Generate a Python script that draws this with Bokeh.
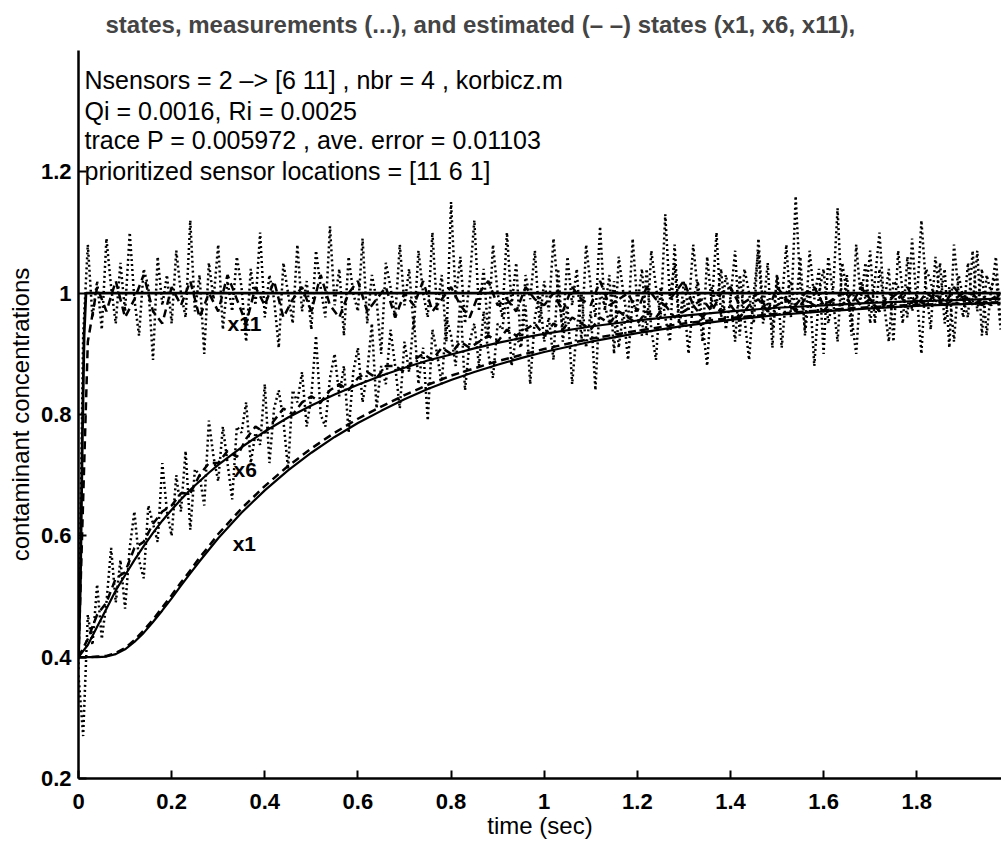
from bokeh.plotting import figure
from bokeh.models import Range1d, FixedTicker, ColumnDataSource
from bokeh.core.properties import value
from bokeh.embed import file_html
from bokeh.resources import INLINE

FONT = "Liberation Sans"

TITLE = "states, measurements (...), and estimated (\u2013 \u2013) states (x1, x6, x11),"
XLABEL = "time (sec)"
YLABEL = "contaminant concentrations"
INFO_LINES = [
    "Nsensors = 2 \u2013> [6 11] , nbr = 4 , korbicz.m",
    "Qi = 0.0016, Ri = 0.0025",
    "trace P = 0.005972 , ave. error = 0.01103",
    "prioritized sensor locations = [11 6 1]",
]
INFO_X = [0.013, 0.013, 0.013, 0.013]
INFO_Y = [1.351, 1.301, 1.252, 1.201]

CURVE_LABELS = ["x11", "x6", "x1"]
CURVE_LABEL_X = [0.32, 0.333, 0.331]
CURVE_LABEL_Y = [0.95, 0.71, 0.587]

X_TICKS = [0, 0.2, 0.4, 0.6, 0.8, 1, 1.2, 1.4, 1.6, 1.8]
X_TICK_LABELS = ["0", "0.2", "0.4", "0.6", "0.8", "1", "1.2", "1.4", "1.6", "1.8"]
Y_TICKS = [0.2, 0.4, 0.6, 0.8, 1, 1.2]
Y_TICK_LABELS = ["0.2", "0.4", "0.6", "0.8", "1", "1.2"]

# true states
t_state = [0, 0.02, 0.04, 0.06, 0.08, 0.10, 0.12, 0.14, 0.16, 0.18, 0.20, 0.22, 0.24, 0.26, 0.28,
           0.30, 0.35, 0.40, 0.45, 0.50, 0.55, 0.60, 0.65, 0.70, 0.75, 0.80, 0.85, 0.90, 0.95,
           1.00, 1.10, 1.20, 1.30, 1.40, 1.50, 1.60, 1.70, 1.80, 1.90, 1.98]
x1_state = [0.400, 0.400, 0.400, 0.401, 0.405, 0.413, 0.425, 0.440, 0.458, 0.477, 0.497, 0.518,
            0.538, 0.558, 0.577, 0.596, 0.638, 0.675, 0.708, 0.737, 0.763, 0.786, 0.806, 0.825,
            0.842, 0.857, 0.870, 0.882, 0.893, 0.903, 0.920, 0.934, 0.946, 0.956, 0.964, 0.970,
            0.975, 0.979, 0.982, 0.984]
x1_est = [0.400, 0.400, 0.401, 0.402, 0.407, 0.415, 0.428, 0.444, 0.462, 0.482, 0.502, 0.523,
          0.543, 0.564, 0.583, 0.603, 0.645, 0.682, 0.715, 0.744, 0.770, 0.793, 0.813, 0.832,
          0.849, 0.864, 0.876, 0.888, 0.898, 0.908, 0.925, 0.938, 0.950, 0.959, 0.966, 0.972,
          0.977, 0.981, 0.983, 0.985]
x6_state = [0.400, 0.420, 0.450, 0.480, 0.510, 0.535, 0.560, 0.583, 0.605, 0.625, 0.643, 0.660,
            0.676, 0.690, 0.704, 0.717, 0.746, 0.772, 0.795, 0.815, 0.833, 0.849, 0.864, 0.877,
            0.889, 0.899, 0.909, 0.918, 0.926, 0.933, 0.945, 0.955, 0.963, 0.970, 0.976, 0.980,
            0.984, 0.987, 0.989, 0.991]
t_x11 = [0, 0.004, 0.008, 0.012, 0.016, 1.98]
x11_state = [0.40, 0.52, 0.75, 0.93, 1.00, 1.00]

# measurements, every 0.01 s
y11_meas = [0.38, 0.93, 1.08, 0.96, 1.02, 0.94, 1.09, 1.01, 0.95, 1.05, 0.97, 1.10, 0.99, 0.93, 1.04,
            1.01, 0.89, 1.06, 0.98, 1.03, 0.95, 1.07, 1.00, 0.96, 1.12, 0.97, 1.03, 0.90, 1.05, 0.99,
            1.08, 0.94, 1.02, 0.97, 1.06, 1.01, 0.92, 1.04, 0.98, 1.10, 0.96, 1.03, 0.99, 0.91, 1.05,
            1.00, 0.95, 1.08, 0.97, 1.02, 0.94, 1.07, 1.01, 0.96, 1.11, 0.98, 1.04, 0.93, 1.06, 1.00,
            0.97, 1.09, 0.95, 1.03, 0.99, 0.90, 1.05, 1.01, 0.96, 1.08, 0.98, 1.04, 0.94, 1.07, 1.00,
            0.96, 1.10, 0.97, 1.03, 0.92, 1.15, 0.99, 1.06, 0.95, 1.02, 1.12, 0.97, 1.04, 0.93, 1.08,
            1.00, 0.96, 1.10, 0.98, 1.05, 0.91, 1.03, 0.99, 1.07, 0.95, 1.02, 0.97, 1.09, 1.00, 0.94,
            1.06, 0.98, 1.04, 0.92, 1.08, 1.01, 0.96, 1.11, 0.97, 1.03, 0.90, 1.06, 1.00, 0.95, 1.09,
            0.98, 1.04, 0.93, 1.07, 1.01, 0.96, 1.13, 0.99, 1.05, 0.94, 1.02, 0.97, 1.08, 1.00, 0.92,
            1.06, 0.98, 1.10, 0.96, 1.03, 0.99, 1.07, 0.93, 1.04, 1.00, 0.95, 1.09, 0.97, 1.05, 0.91,
            1.03, 0.98, 1.08, 0.96, 1.16, 1.01, 0.94, 1.07, 0.99, 1.04, 0.90, 1.06, 1.00, 1.14, 0.97,
            1.03, 0.93, 1.08, 0.99, 1.05, 0.95, 1.02, 1.10, 0.98, 1.04, 0.92, 1.07, 1.00, 0.96, 1.09,
            0.98, 1.12, 1.01, 0.94, 1.06, 0.99, 1.04, 0.91, 1.08, 1.00, 0.96, 1.05, 0.98, 1.07, 0.93,
            1.03, 1.00, 1.06, 0.95]
y6_meas = [0.37, 0.27, 0.47, 0.42, 0.52, 0.43, 0.49, 0.58, 0.49, 0.56, 0.48, 0.58, 0.64, 0.56, 0.53,
           0.65, 0.62, 0.59, 0.72, 0.64, 0.60, 0.70, 0.64, 0.74, 0.61, 0.71, 0.70, 0.65, 0.79, 0.73,
           0.69, 0.78, 0.72, 0.66, 0.78, 0.77, 0.82, 0.72, 0.77, 0.75, 0.85, 0.72, 0.81, 0.84, 0.79,
           0.71, 0.84, 0.82, 0.87, 0.78, 0.83, 0.93, 0.80, 0.78, 0.86, 0.90, 0.83, 0.88, 0.77, 0.87,
           0.91, 0.82, 0.87, 0.95, 0.81, 0.88, 0.85, 0.94, 0.88, 0.81, 0.92, 0.87, 0.96, 0.85, 0.91,
           0.79, 0.94, 0.90, 0.85, 0.96, 0.93, 0.88, 0.99, 0.84, 0.92, 0.95, 0.88, 0.97, 0.90, 0.86,
           0.95, 0.94, 1.00, 0.88, 0.93, 0.91, 0.98, 0.85, 0.96, 1.00, 0.92, 0.96, 0.89, 1.04, 0.92,
           0.98, 0.85, 0.94, 1.00, 0.91, 0.97, 0.84, 1.00, 0.98, 0.95, 1.02, 0.91, 0.97, 0.89, 0.99,
           0.96, 0.93, 1.04, 0.94, 0.89, 1.01, 0.96, 0.92, 1.08, 0.95, 0.99, 0.90, 0.99, 1.02, 0.95,
           0.88, 1.01, 0.98, 1.04, 0.94, 0.99, 0.92, 1.03, 0.96, 0.89, 1.00, 1.07, 0.95, 0.99, 0.94,
           1.03, 0.91, 1.00, 1.02, 0.97, 1.06, 0.93, 1.01, 0.88, 1.00, 1.04, 0.95, 0.99, 0.92, 1.05,
           1.00, 0.96, 0.90, 1.02, 0.99, 1.07, 0.95, 1.04, 0.98, 0.92, 1.02, 1.01, 0.95, 1.06, 0.97,
           1.00, 0.90, 1.04, 1.02, 0.98, 1.05, 0.95, 1.01, 0.92, 1.03, 0.99, 0.96, 1.07, 0.97, 1.04,
           0.93, 1.01, 1.03, 0.94]

# estimates of sensed states, every 0.02 s
x6_est = [0.40, 0.43, 0.47, 0.49, 0.53, 0.54, 0.58, 0.59, 0.62, 0.64, 0.65, 0.67, 0.67, 0.70, 0.72,
          0.72, 0.74, 0.73, 0.76, 0.78, 0.77, 0.79, 0.81, 0.80, 0.82, 0.83, 0.82, 0.84, 0.85, 0.84,
          0.86, 0.87, 0.86, 0.88, 0.88, 0.87, 0.89, 0.90, 0.89, 0.91, 0.90, 0.92, 0.91, 0.92, 0.93,
          0.92, 0.94, 0.93, 0.94, 0.95, 0.93, 0.95, 0.94, 0.96, 0.95, 0.94, 0.96, 0.95, 0.97, 0.96,
          0.95, 0.97, 0.96, 0.98, 0.96, 0.97, 0.98, 0.96, 0.98, 0.97, 0.98, 0.96, 0.98, 0.99, 0.97,
          0.98, 0.99, 0.97, 0.99, 0.98, 0.97, 0.99, 0.98, 1.00, 0.98, 0.99, 0.97, 0.99, 1.00, 0.98,
          0.99, 0.98, 1.00, 0.98, 0.99, 1.00, 0.98, 0.99, 0.98, 1.00]
x11_est = [0.40, 0.92, 1.01, 0.97, 1.02, 0.96, 0.99, 1.03, 0.97, 0.95, 1.01, 0.98, 1.02, 0.96, 1.00,
           0.97, 1.03, 0.99, 0.95, 1.01, 0.98, 1.02, 0.96, 0.99, 1.01, 0.97, 1.03, 0.98, 0.96, 1.00,
           1.02, 0.97, 0.99, 1.01, 0.96, 1.00, 0.98, 1.02, 0.97, 0.99, 1.01, 0.98, 0.96, 1.00, 1.02,
           0.98, 0.99, 0.97, 1.01, 0.99, 0.98, 1.00, 0.97, 1.01, 0.99, 0.98, 1.02, 0.98, 0.99, 1.00,
           0.97, 1.01, 0.99, 0.98, 1.00, 1.02, 0.98, 0.99, 0.97, 1.00, 1.01, 0.98, 0.99, 1.00, 0.97,
           1.01, 0.99, 0.98, 1.00, 1.01, 0.98, 0.99, 1.00, 0.98, 1.01, 0.99, 0.97, 1.00, 0.99, 1.01,
           0.98, 1.00, 0.99, 0.98, 1.01, 0.99, 1.00, 0.98, 0.99, 1.00]

t_meas11 = [round(i * 0.01, 3) for i in range(len(y11_meas))]
t_meas6 = [round(i * 0.01, 3) for i in range(len(y6_meas))]
t_est6 = [round(i * 0.02, 3) for i in range(len(x6_est))]
t_est11 = [round(i * 0.02, 3) for i in range(len(x11_est))]

p = figure(width=1001, height=842, output_backend="svg", toolbar_location=None,
           x_range=Range1d(0, 1.982), y_range=Range1d(0.2, 1.4),
           min_border_left=78, min_border_right=0, min_border_top=48, min_border_bottom=64)
p.outline_line_color = None
p.grid.visible = False
p.background_fill_color = "white"
p.border_fill_color = "white"

p.title.text = TITLE
p.title.align = "left"
p.title.offset = 27
p.title.text_font = FONT
p.title.text_font_size = "24px"
p.title.text_font_style = "bold"
p.title.text_line_height = 1.0
p.title.vertical_align = "top"
p.title.standoff = 21

for ax, ticks, labels, lab in ((p.xaxis[0], X_TICKS, X_TICK_LABELS, XLABEL),
                               (p.yaxis[0], Y_TICKS, Y_TICK_LABELS, YLABEL)):
    ax.ticker = FixedTicker(ticks=ticks, minor_ticks=[])
    ax.major_label_overrides = {k: v for k, v in zip(ticks, labels)}
    ax.axis_line_width = 2.5
    ax.axis_line_color = "black"
    ax.major_tick_in = 8
    ax.major_tick_out = 0
    ax.major_tick_line_width = 2
    ax.minor_tick_line_color = None
    ax.major_label_text_font = FONT
    ax.major_label_text_font_size = "22px"
    ax.major_label_text_font_style = "bold"
    ax.major_label_text_color = "black"
    ax.major_label_text_line_height = 1.0
    ax.axis_label = lab
    ax.axis_label_text_font = FONT
    ax.axis_label_text_font_size = "24px"
    ax.axis_label_text_font_style = "normal"
    ax.axis_label_text_color = "black"
    ax.axis_label_text_line_height = 1.0

p.xaxis.major_label_standoff = 15
p.xaxis.axis_label_standoff = 0
p.yaxis.major_label_standoff = 7
p.yaxis.axis_label_standoff = 4

BLACK = "black"
# measurements (dotted)
p.line(t_meas11, y11_meas, line_color=BLACK, line_width=2.5, line_dash="2 3")
p.line(t_meas6, y6_meas, line_color=BLACK, line_width=2.5, line_dash="2 3")
# true states (solid)
p.line(t_state, x1_state, line_color=BLACK, line_width=2.2)
p.line(t_state, x6_state, line_color=BLACK, line_width=2.2)
p.line(t_x11, x11_state, line_color=BLACK, line_width=2.8)
# estimates (dashed)
p.line(t_state, x1_est, line_color=BLACK, line_width=2.5, line_dash="8 5")
p.line(t_est6, x6_est, line_color=BLACK, line_width=2.5, line_dash="8 5")
p.line(t_est11, x11_est, line_color=BLACK, line_width=2.5, line_dash="8 5")

info = ColumnDataSource(dict(x=INFO_X, y=INFO_Y, text=INFO_LINES))
p.text(x="x", y="y", text="text", source=info, text_font=value(FONT), text_font_size="25px",
       text_baseline="middle", text_align="left", text_color=BLACK)

lbl = ColumnDataSource(dict(x=CURVE_LABEL_X, y=CURVE_LABEL_Y, text=CURVE_LABELS))
p.text(x="x", y="y", text="text", source=lbl, text_font=value(FONT), text_font_size="21px",
       text_baseline="middle", text_align="left", text_color=BLACK, text_font_style="bold")

open("out.html", "w").write(file_html(p, INLINE))
